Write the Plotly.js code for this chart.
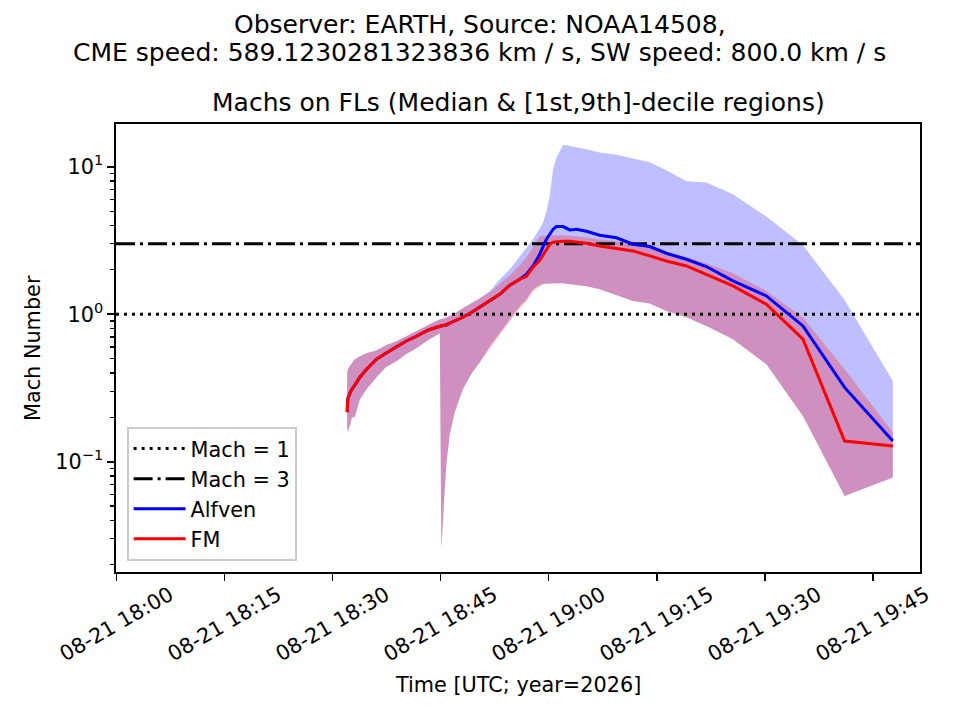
<!DOCTYPE html>
<html>
<head>
<meta charset="utf-8">
<script src="https://cdn.plot.ly/plotly-3.0.1.min.js"></script>
<style>
  html, body { margin: 0; padding: 0; background: #fff; }
  #machs { width: 960px; height: 720px; }
</style>
</head>
<body>
<div id="machs"></div>
<script>
// minutes after 2026-08-21 18:00 UTC
var minutes = [32.02, 32.12, 32.47, 32.68, 33.09, 33.79, 34.72, 36.10, 37.39, 38.88,
               40.17, 41.65, 43.22, 44.89, 45.10, 45.30, 45.58, 45.86, 46.27, 46.97,
               48.08, 49.33, 50.44, 51.83, 53.21, 54.60, 55.99, 56.92, 57.83, 58.76,
               59.22, 59.69, 60.15, 60.61, 61.08, 62.00, 62.93, 63.86, 65.24, 67.09,
               69.41, 71.71, 74.03, 76.34, 79.12, 81.89, 85.58, 90.22, 95.30, 101.08, 107.78];

// medians
var fmMed  = [0.217, 0.269, 0.296, 0.310, 0.330, 0.374, 0.424, 0.495, 0.544, 0.598,
              0.656, 0.709, 0.779, 0.829, 0.833, 0.838, 0.842, 0.849, 0.869, 0.897,
              0.954, 1.032, 1.115, 1.225, 1.366, 1.573, 1.727, 1.810, 2.083, 2.323,
              2.512, 2.759, 2.983, 3.077, 3.101, 3.125, 3.12, 3.08, 3.030, 2.904,
              2.802, 2.687, 2.485, 2.298, 2.126, 1.867, 1.555, 1.169, 0.677, 0.138, 0.128];
var alfMed = [0.217, 0.269, 0.296, 0.310, 0.330, 0.374, 0.424, 0.495, 0.544, 0.598,
              0.656, 0.709, 0.779, 0.829, 0.833, 0.838, 0.842, 0.849, 0.869, 0.897,
              0.954, 1.032, 1.115, 1.225, 1.366, 1.573, 1.727, 1.867, 2.126, 2.552,
              2.904, 3.225, 3.486, 3.770, 3.932, 3.932, 3.729, 3.770, 3.654, 3.432,
              3.301, 2.983, 2.877, 2.592, 2.360, 2.106, 1.682, 1.331, 0.833, 0.319, 0.138];

// 1st and 9th deciles
var fmLo  = [0.171, 0.159, 0.180, 0.200, 0.200, 0.265, 0.310, 0.374, 0.437, 0.480,
             0.536, 0.588, 0.666, 0.743, 0.0255, 0.0395, 0.0651, 0.101, 0.154, 0.217,
             0.310, 0.398, 0.473, 0.588, 0.732, 0.897, 1.098, 1.225, 1.432, 1.548,
             1.597, 1.610, 1.623, 1.62, 1.62, 1.62, 1.60, 1.573, 1.548, 1.477,
             1.345, 1.231, 1.182, 1.053, 0.954, 0.833, 0.677, 0.458, 0.204, 0.0586, 0.0781];
var fmHi  = [0.392, 0.424, 0.451, 0.465, 0.495, 0.519, 0.544, 0.570, 0.616, 0.656,
             0.709, 0.767, 0.842, 0.925, 0.925, 0.932, 0.939, 0.954, 0.969, 1.016,
             1.098, 1.187, 1.284, 1.410, 1.597, 1.838, 2.149, 2.434, 2.846, 3.380,
             3.406, 3.432, 3.43, 3.43, 3.43, 3.43, 3.41, 3.38, 3.327, 3.225,
             3.125, 2.983, 2.846, 2.633, 2.434, 2.217, 1.897, 1.439, 0.950, 0.424, 0.158];
var alfLo = [0.171, 0.159, 0.180, 0.200, 0.200, 0.265, 0.310, 0.374, 0.437, 0.480,
             0.536, 0.588, 0.666, 0.743, 0.0255, 0.041, 0.068, 0.105, 0.154, 0.217,
             0.310, 0.398, 0.473, 0.607, 0.755, 0.926, 1.133, 1.264, 1.478, 1.58,
             1.61, 1.610, 1.623, 1.62, 1.62, 1.62, 1.60, 1.573, 1.548, 1.477,
             1.345, 1.231, 1.182, 1.053, 0.954, 0.833, 0.677, 0.458, 0.204, 0.0586, 0.0781];
var alfHi = [0.392, 0.424, 0.451, 0.465, 0.495, 0.519, 0.544, 0.570, 0.616, 0.656,
             0.709, 0.767, 0.842, 0.925, 0.925, 0.932, 0.939, 0.954, 0.969, 1.016,
             1.098, 1.187, 1.284, 1.432, 1.727, 2.019, 2.473, 2.846, 3.225, 3.830,
             4.184, 4.992, 6.339, 9.618, 11.54, 14.10, 13.88, 13.56, 13.14, 12.48,
             12.06, 11.42, 10.73, 9.47, 7.97, 7.81, 6.51, 4.60, 2.937, 1.250, 0.353];

var tickTimes = ['2026-08-21 18:00', '2026-08-21 18:15', '2026-08-21 18:30', '2026-08-21 18:45',
                 '2026-08-21 19:00', '2026-08-21 19:15', '2026-08-21 19:30', '2026-08-21 19:45'];
var tickLabels = ['08-21 18:00', '08-21 18:15', '08-21 18:30', '08-21 18:45',
                  '08-21 19:00', '08-21 19:15', '08-21 19:30', '08-21 19:45'];
var xRange = ['2026-08-21 17:59:56', '2026-08-21 19:51:33'];

var t0 = Date.UTC(2026, 7, 21, 18, 0, 0);
var times = minutes.map(function (m) {
  return new Date(t0 + m * 60000).toISOString().slice(0, 23).replace('T', ' ');
});

var FONT = 'DejaVu Sans, sans-serif';

function band(lo, hi, color) {
  return [
    { x: times, y: lo, type: 'scatter', mode: 'lines', line: { width: 0 },
      showlegend: false, hoverinfo: 'skip' },
    { x: times, y: hi, type: 'scatter', mode: 'lines', line: { width: 0 },
      fill: 'tonexty', fillcolor: color, showlegend: false, hoverinfo: 'skip' }
  ];
}

var traces = [].concat(
  band(alfLo, alfHi, 'rgba(0,0,255,0.25)'),
  band(fmLo, fmHi, 'rgba(255,0,0,0.25)'),
  [
    { x: xRange, y: [1, 1], type: 'scatter', mode: 'lines', name: 'Mach = 1',
      line: { color: 'black', width: 3, dash: '3px,5px' } },
    { x: xRange, y: [3, 3], type: 'scatter', mode: 'lines', name: 'Mach = 3',
      line: { color: 'black', width: 3, dash: '19px,5px,3px,5px' } },
    { x: times, y: alfMed, type: 'scatter', mode: 'lines', name: 'Alfven',
      line: { color: 'blue', width: 3 } },
    { x: times, y: fmMed, type: 'scatter', mode: 'lines', name: 'FM',
      line: { color: 'red', width: 3 } }
  ]
);

var annotations = [
  { text: 'Observer: EARTH, Source: NOAA14508,', x: 0.4527, y: 1.2232 },
  { text: 'CME speed: 589.1230281323836 km / s, SW speed: 800.0 km / s', x: 0.4527, y: 1.1607 },
  { text: 'Machs on FLs (Median &amp; [1st,9th]-decile regions)', x: 0.5, y: 1.0469 }
].map(function (a) {
  return { text: a.text, x: a.x, y: a.y, xref: 'paper', yref: 'paper', showarrow: false,
           xanchor: 'center', yanchor: 'middle', font: { family: FONT, size: 25, color: 'black' } };
});

// axis titles
annotations.push({ text: 'Time [UTC; year=2026]', x: 0.5, y: -0.2522, xref: 'paper', yref: 'paper',
                   showarrow: false, xanchor: 'center', yanchor: 'middle',
                   font: { family: FONT, size: 20.8, color: 'black' } });
annotations.push({ text: 'Mach Number', x: -0.1032, y: 0.5, xref: 'paper', yref: 'paper',
                   showarrow: false, xanchor: 'center', yanchor: 'middle', textangle: -90,
                   font: { family: FONT, size: 20.8, color: 'black' } });

// rotated x tick labels, centred on their ticks like matplotlib
tickTimes.forEach(function (t, i) {
  annotations.push({ text: tickLabels[i], x: t, y: -0.1161, xref: 'x', yref: 'paper',
                     showarrow: false, xanchor: 'center', yanchor: 'middle', textangle: -30,
                     font: { family: FONT, size: 20.8, color: 'black' } });
});

var layout = {
  width: 960, height: 720,
  margin: { l: 116, r: 40, t: 124, b: 148, pad: 0 },
  paper_bgcolor: 'white', plot_bgcolor: 'white',
  font: { family: FONT, size: 20.8, color: 'black' },
  showlegend: true,
  legend: {
    x: 0.0137, y: 0.0246, xanchor: 'left', yanchor: 'bottom',
    traceorder: 'normal', itemwidth: 52,
    bgcolor: 'rgba(255,255,255,0.8)', bordercolor: '#cccccc', borderwidth: 1.6,
    font: { family: FONT, size: 20.8, color: 'black' }, tracegroupgap: 0
  },
  xaxis: {
    type: 'date', range: xRange, showgrid: false, zeroline: false,
    tickvals: tickTimes, showticklabels: false,
    ticks: 'outside', ticklen: 7, tickwidth: 1.6, tickcolor: 'black',
    showline: true, linecolor: 'black', linewidth: 1.6, mirror: true
  },
  yaxis: {
    type: 'log', range: [-1.748, 1.290], showgrid: false, zeroline: false,
    tickvals: [0.1, 1, 10],
    ticktext: ['10<sup>\u22121</sup>', '10<sup>0</sup>', '10<sup>1</sup>'],
    ticks: 'outside', ticklen: 7, tickwidth: 1.6, tickcolor: 'black',
    tickfont: { family: FONT, size: 20.8, color: 'black' },
    showline: true, linecolor: 'black', linewidth: 1.6, mirror: true,
    minor: {
      ticks: 'outside', ticklen: 4, tickwidth: 1.2, tickcolor: 'black', showgrid: false,
      tickvals: [0.02, 0.03, 0.04, 0.05, 0.06, 0.07, 0.08, 0.09,
                 0.2, 0.3, 0.4, 0.5, 0.6, 0.7, 0.8, 0.9,
                 2, 3, 4, 5, 6, 7, 8, 9]
    }
  },
  annotations: annotations
};

Plotly.newPlot('machs', traces, layout, { staticPlot: true, displayModeBar: false });
</script>
</body>
</html>
